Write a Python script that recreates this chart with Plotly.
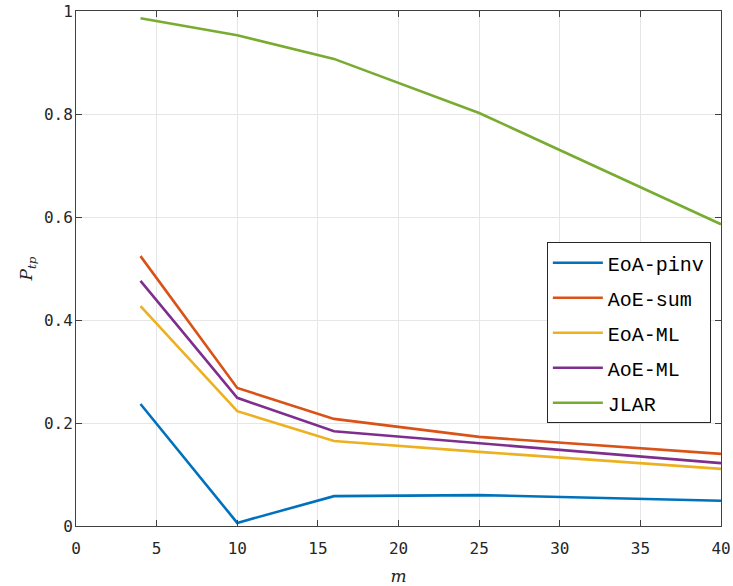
import plotly.graph_objects as go

m_vals = [4, 10, 16, 25, 40]
eoa_pinv = [0.237, 0.006, 0.058, 0.060, 0.049]
aoe_sum = [0.524, 0.268, 0.208, 0.173, 0.140]
eoa_ml = [0.427, 0.223, 0.165, 0.144, 0.111]
aoe_ml = [0.476, 0.249, 0.184, 0.161, 0.122]
jlar = [0.986, 0.953, 0.907, 0.802, 0.586]

x_ticks = [0, 5, 10, 15, 20, 25, 30, 35, 40]
y_ticks = [0, 0.2, 0.4, 0.6, 0.8, 1]
y_tick_labels = ["0", "0.2", "0.4", "0.6", "0.8", "1"]

series = [
    ("EoA-pinv", eoa_pinv, "#0072BD"),
    ("AoE-sum", aoe_sum, "#D95319"),
    ("EoA-ML", eoa_ml, "#EDB120"),
    ("AoE-ML", aoe_ml, "#7E2F8E"),
    ("JLAR", jlar, "#77AC30"),
]

fig = go.Figure()
for i, (name, vals, col) in enumerate(series):
    fig.add_trace(go.Scatter(x=m_vals, y=vals, mode="lines", name=name,
                             legendgroup=f"g{i}",
                             line=dict(color=col, width=2.6)))

axis_common = dict(
    showgrid=True, gridcolor="#e6e6e6", gridwidth=1,
    showline=True, linecolor="#404040", linewidth=1, mirror="ticks",
    ticks="inside", ticklen=6, tickcolor="#404040",
    tickfont=dict(family="DejaVu Sans Mono", size=16, color="#262626"),
    zeroline=False, automargin=False,
)

fig.update_xaxes(range=[0, 40], tickvals=x_ticks, ticklabelstandoff=8,
                 title=dict(text="<i>m</i>", font=dict(family="DejaVu Serif", size=17, color="#262626"), standoff=15),
                 **axis_common)
fig.update_yaxes(range=[0, 1], tickvals=y_ticks, ticktext=y_tick_labels, ticklabelstandoff=-1,
                 title=dict(text="<i>P</i><sub><i>tp</i></sub>", font=dict(family="DejaVu Serif", size=17, color="#262626"), standoff=6),
                 **axis_common)

fig.update_layout(
    width=733, height=586,
    margin=dict(l=76, r=12, t=11, b=60),
    plot_bgcolor="white", paper_bgcolor="white",
    legend=dict(x=0.730, y=0.551, xanchor="left", yanchor="top",
                bgcolor="white", bordercolor="#262626", borderwidth=1,
                font=dict(family="Liberation Mono", size=20, color="#000000"),
                tracegroupgap=6, traceorder="grouped", itemwidth=50),
    showlegend=True,
)

fig.write_html("out.html", config={"displayModeBar": False},
               post_script="document.body.style.margin='0px';document.body.style.overflow='hidden';")
